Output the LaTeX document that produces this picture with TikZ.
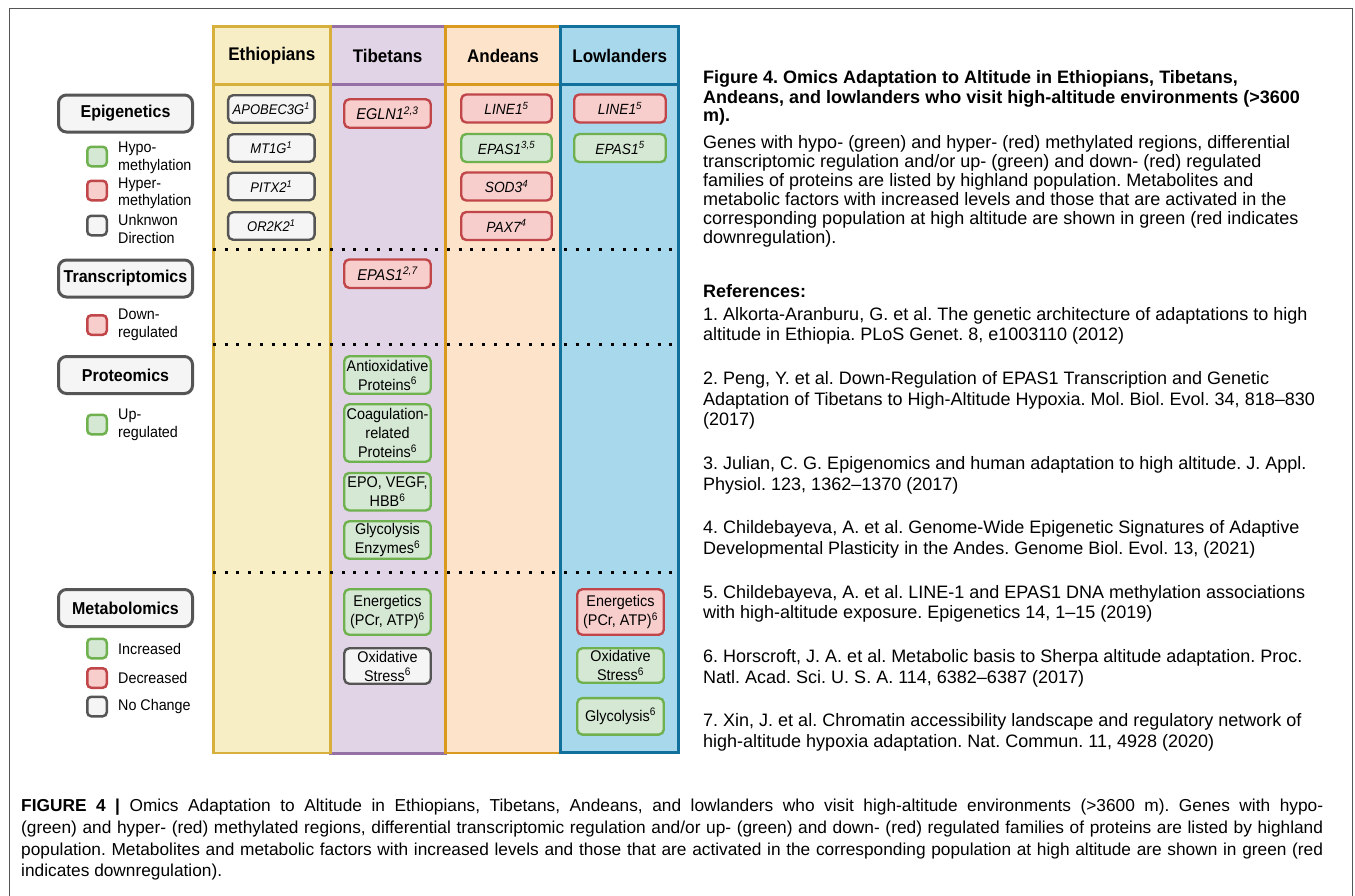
\documentclass[tikz,border=0pt]{standalone}
\usepackage{fontspec}
\setmainfont[FakeStretch=0.93]{Liberation Sans}
\newfontfamily\plainfont[Ligatures=TeX]{Liberation Sans}
\definecolor{ethfill}{HTML}{F8EEC6}
\definecolor{ethdraw}{HTML}{D6AF3C}
\definecolor{tibfill}{HTML}{E1D4E6}
\definecolor{tibdraw}{HTML}{9470A4}
\definecolor{andfill}{HTML}{FDE3C9}
\definecolor{anddraw}{HTML}{D99A1E}
\definecolor{lowfill}{HTML}{A8D8EC}
\definecolor{lowdraw}{HTML}{12709C}
\definecolor{gfill}{HTML}{D5E8D4}
\definecolor{gdraw}{HTML}{6FB04F}
\definecolor{rfill}{HTML}{F8CECC}
\definecolor{rdraw}{HTML}{C0464A}
\definecolor{nfill}{HTML}{F5F5F5}
\definecolor{ndraw}{HTML}{555555}
\definecolor{framecol}{HTML}{555555}
\newcommand\fsz[2]{\fontsize{#1}{#2}\selectfont}
\begin{document}
\frenchspacing
\begin{tikzpicture}[x=1pt,y=-1pt,
  catbox/.style={draw=ndraw, fill=nfill, line width=3pt, rounded corners=8pt, minimum width=134pt, minimum height=37pt, inner sep=0pt, font=\fsz{17.2}{19}\bfseries},
  swatch/.style={line width=2.5pt, rounded corners=4pt, minimum size=19.5pt, inner sep=0pt},
  sg/.style={swatch, draw=gdraw, fill=gfill},
  sr/.style={swatch, draw=rdraw, fill=rfill},
  sn/.style={swatch, draw=ndraw, fill=nfill},
  legtext/.style={anchor=west, align=left, inner sep=0pt, font=\fsz{15.4}{17.5}},
  gbox/.style={line width=2.4pt, rounded corners=5pt, inner sep=0pt, align=center, font=\fsz{15.5}{19}},
  gG/.style={gbox, draw=gdraw, fill=gfill},
  gR/.style={gbox, draw=rdraw, fill=rfill},
  gN/.style={gbox, draw=ndraw, fill=nfill},
  ethgene/.style={minimum width=86.5pt, minimum height=27.5pt, font=\fsz{14}{16}\itshape},
  tibgene/.style={minimum width=86.5pt, minimum height=28.5pt, font=\fsz{15.6}{17}\itshape},
  andgene/.style={minimum width=90.5pt, minimum height=28pt, font=\fsz{14.8}{17}\itshape},
  lowgene/.style={minimum width=91.5pt, minimum height=28pt, font=\fsz{14.8}{17}\itshape},
  pbox/.style={minimum width=86.5pt},
  dotline/.style={line width=3pt, dash pattern=on 3pt off 8.7pt},
  colhead/.style={font=\fsz{18.3}{20}\bfseries, inner sep=0pt},
  rtext/.style={anchor=base west, inner sep=0pt, font=\plainfont\fsz{18}{20}},
  rbold/.style={rtext, font=\plainfont\fsz{18}{20}\bfseries},
  captext/.style={anchor=base west, inner sep=0pt, font=\plainfont\fsz{17.3}{20}},
]
\useasboundingbox (0,0) rectangle (1355,895);
\fill[white] (0,0) rectangle (1355,895);
% outer frame
\draw[framecol, line width=1.6pt] (9.5,896) -- (9.5,8.5) -- (1352.5,8.5) -- (1352.5,896);

% columns
\draw[tibdraw, fill=tibfill, line width=3pt] (330.3,26.2) rectangle (445.2,753);
\draw[tibdraw, line width=3pt] (330.3,84.5) -- (445.2,84.5);
\draw[ethdraw, fill=ethfill, line width=2.8pt] (213.3,26.2) rectangle (330.3,753);
\draw[ethdraw, line width=2.8pt] (213.3,84.5) -- (330.3,84.5);
\draw[anddraw, fill=andfill, line width=2.8pt] (445.2,26.2) rectangle (560.8,753);
\draw[anddraw, line width=2.8pt] (445.2,84.5) -- (560.8,84.5);
\draw[lowdraw, fill=lowfill, line width=3.2pt] (560.8,26.5) rectangle (678.7,752.5);
\draw[lowdraw, line width=3.2pt] (560.8,84.5) -- (678.7,84.5);

\node[colhead] (hEth) at (271.8,55.5) {Ethiopians};
\node[colhead] (hTib) at (387.6,55.5) {Tibetans};
\node[colhead] (hAnd) at (503,55.5) {Andeans};
\node[colhead] (hLow) at (619.7,55.5) {Lowlanders};

% dotted separators
\draw[dotline] (213,249.3) -- (676,249.3);
\draw[dotline] (213,344.3) -- (676,344.3);
\draw[dotline] (213,572.3) -- (676,572.3);

% legend
\node[catbox] (cEpi) at (125.5,113.5) {Epigenetics};
\node[sg] (sEpiG) at (97,156.5) {};
\node[legtext] (tEpiG) at (118,158) {Hypo-\\methylation};
\node[sr] (sEpiR) at (97,190.5) {};
\node[legtext] (tEpiR) at (118,193.5) {Hyper-\\methylation};
\node[sn] (sEpiN) at (97,225.5) {};
\node[legtext] (tEpiN) at (118,229) {Unknwon\\Direction};

\node[catbox] (cTra) at (125.5,278.5) {Transcriptomics};
\node[sr] (sTraR) at (97,325) {};
\node[legtext] (tTraR) at (118,325) {Down-\\regulated};

\node[catbox] (cPro) at (125.5,375) {Proteomics};
\node[sg] (sProG) at (97,424.5) {};
\node[legtext] (tProG) at (118,425) {Up-\\regulated};

\node[catbox] (cMet) at (125.5,608) {Metabolomics};
\node[sg] (sMetG) at (97,648.5) {};
\node[legtext] (tMetG) at (118,648.5) {Increased};
\node[sr] (sMetR) at (97,678) {};
\node[legtext] (tMetR) at (118,678) {Decreased};
\node[sn] (sMetN) at (97,706.5) {};
\node[legtext] (tMetN) at (118,706.5) {No Change};

% Ethiopians
\node[gN, ethgene] (e1) at (271.3,109) {APOBEC3G\textsuperscript{1}};
\node[gN, ethgene] (e2) at (271.3,148) {MT1G\textsuperscript{1}};
\node[gN, ethgene] (e3) at (271.3,186.5) {PITX2\textsuperscript{1}};
\node[gN, ethgene] (e4) at (271.3,226) {OR2K2\textsuperscript{1}};

% Tibetans
\node[gR, tibgene] (t1) at (387.5,113.5) {EGLN1\textsuperscript{2,3}};
\node[gR, tibgene] (t2) at (387.5,273.7) {EPAS1\textsuperscript{2,7}};
\node[gG, pbox, minimum height=37.5pt] (t3) at (387.5,375) {Antioxidative\\Proteins\textsuperscript{6}};
\node[gG, pbox, minimum height=57.5pt] (t4) at (387.5,433) {Coagulation-\\related\\Proteins\textsuperscript{6}};
\node[gG, pbox, minimum height=37.5pt] (t5) at (387.5,491.7) {EPO, VEGF,\\HBB\textsuperscript{6}};
\node[gG, pbox, minimum height=37.5pt] (t6) at (387.5,540) {Glycolysis\\Enzymes\textsuperscript{6}};
\node[gG, pbox, minimum height=45.5pt] (t7) at (387.5,612) {Energetics\\(PCr, ATP)\textsuperscript{6}};
\node[gN, pbox, minimum height=35.5pt] (t8) at (387.5,666) {Oxidative\\Stress\textsuperscript{6}};

% Andeans
\node[gR, andgene] (a1) at (506.5,108.5) {LINE1\textsuperscript{5}};
\node[gG, andgene] (a2) at (506.5,148) {EPAS1\textsuperscript{3,5}};
\node[gR, andgene] (a3) at (506.5,186.5) {SOD3\textsuperscript{4}};
\node[gR, andgene] (a4) at (506.5,226) {PAX7\textsuperscript{4}};

% Lowlanders
\node[gR, lowgene] (l1) at (620,108.5) {LINE1\textsuperscript{5}};
\node[gG, lowgene] (l2) at (620,148) {EPAS1\textsuperscript{5}};
\node[gR, pbox, minimum height=45.5pt] (l3) at (620.5,612) {Energetics\\(PCr, ATP)\textsuperscript{6}};
\node[gG, pbox, minimum height=34.5pt] (l4) at (620.5,665.5) {Oxidative\\Stress\textsuperscript{6}};
\node[gG, pbox, minimum height=36.5pt] (l5) at (620.5,716.3) {Glycolysis\textsuperscript{6}};

% right-hand text
\node[rbold] (ti1) at (703,83) {Figure 4. Omics Adaptation to Altitude in Ethiopians, Tibetans,};
\node[rbold] (ti2) at (703,103) {Andeans, and lowlanders who visit high-altitude environments (>3600};
\node[rbold] (ti3) at (703,121.5) {m).};
\node[rtext] (b1) at (703,148) {Genes with hypo- (green) and hyper- (red) methylated regions, differential};
\node[rtext] (b2) at (703,167) {transcriptomic regulation and/or up- (green) and down- (red) regulated};
\node[rtext] (b3) at (703,186) {families of proteins are listed by highland population. Metabolites and};
\node[rtext] (b4) at (703,205.3) {metabolic factors with increased levels and those that are activated in the};
\node[rtext] (b5) at (703,224.3) {corresponding population at high altitude are shown in green (red indicates};
\node[rtext] (b6) at (703,243.3) {downregulation).};

\node[rbold] (rh) at (703,297.5) {References:};
\node[rtext] (r1a) at (703,320) {1. Alkorta-Aranburu, G. et al. The genetic architecture of adaptations to high};
\node[rtext] (r1b) at (703,340.8) {altitude in Ethiopia. PLoS Genet. 8, e1003110 (2012)};
\node[rtext] (r2a) at (703,384.3) {2. Peng, Y. et al. Down-Regulation of EPAS1 Transcription and Genetic};
\node[rtext] (r2b) at (703,405.1) {Adaptation of Tibetans to High-Altitude Hypoxia. Mol. Biol. Evol. 34, 818--830};
\node[rtext] (r2c) at (703,425.9) {(2017)};
\node[rtext] (r3a) at (703,469.4) {3. Julian, C. G. Epigenomics and human adaptation to high altitude. J. Appl.};
\node[rtext] (r3b) at (703,490.2) {Physiol. 123, 1362--1370 (2017)};
\node[rtext] (r4a) at (703,533.7) {4. Childebayeva, A. et al. Genome-Wide Epigenetic Signatures of Adaptive};
\node[rtext] (r4b) at (703,554.5) {Developmental Plasticity in the Andes. Genome Biol. Evol. 13, (2021)};
\node[rtext] (r5a) at (703,598) {5. Childebayeva, A. et al. LINE-1 and EPAS1 DNA methylation associations};
\node[rtext] (r5b) at (703,618.8) {with high-altitude exposure. Epigenetics 14, 1--15 (2019)};
\node[rtext] (r6a) at (703,662.3) {6. Horscroft, J. A. et al. Metabolic basis to Sherpa altitude adaptation. Proc.};
\node[rtext] (r6b) at (703,683.1) {Natl. Acad. Sci. U. S. A. 114, 6382--6387 (2017)};
\node[rtext] (r7a) at (703,726.6) {7. Xin, J. et al. Chromatin accessibility landscape and regulatory network of};
\node[rtext] (r7b) at (703,747.4) {high-altitude hypoxia adaptation. Nat. Commun. 11, 4928 (2020)};

% caption
\node[captext] (cap1) at (21,811.7) {\makebox[1302pt][s]{\textbf{FIGURE 4 |} Omics Adaptation to Altitude in Ethiopians, Tibetans, Andeans, and lowlanders who visit high-altitude environments (>3600 m). Genes with hypo-}};
\node[captext] (cap2) at (21,833.3) {\makebox[1302pt][s]{(green) and hyper- (red) methylated regions, differential transcriptomic regulation and/or up- (green) and down- (red) regulated families of proteins are listed by highland}};
\node[captext] (cap3) at (21,855) {\makebox[1302pt][s]{population. Metabolites and metabolic factors with increased levels and those that are activated in the corresponding population at high altitude are shown in green (red}};
\node[captext] (cap4) at (21,876) {indicates downregulation).};
\end{tikzpicture}
\end{document}
